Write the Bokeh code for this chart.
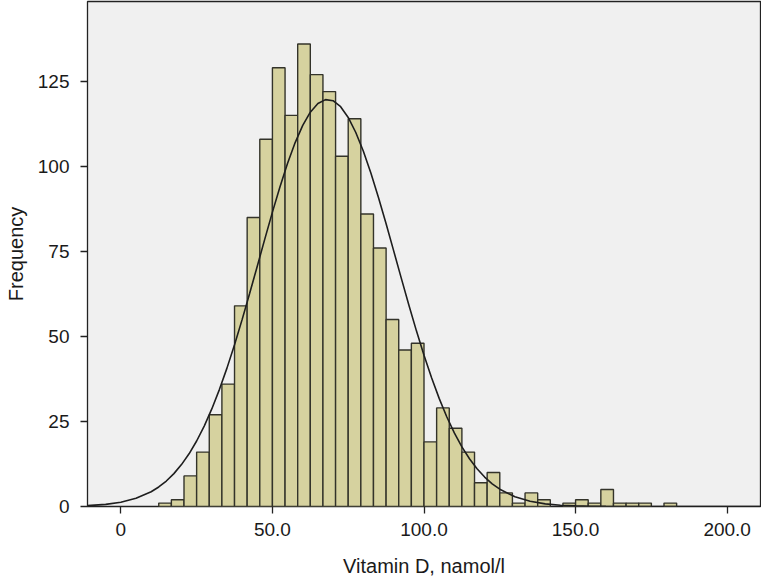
from bokeh.plotting import figure
from bokeh.models import FixedTicker, Range1d, ColumnDataSource
from bokeh.embed import file_html
from bokeh.resources import INLINE

# ---- data ----
bin_first_edge = 12.5
bin_width = 25 / 6
counts = [1, 2, 9, 16, 27, 36, 59, 85, 108, 129, 115, 136, 127, 122, 103, 114,
          86, 76, 55, 46, 48, 19, 29, 23, 16, 7, 10, 4, 1, 4, 2, 0, 1, 2, 1, 5,
          1, 1, 1, 0, 1]

# fitted normal curve
curve_x = [-11, -5, 0, 5, 10, 12.5, 15, 17.5, 20, 22.5, 25, 27.5, 30, 32.5, 35,
           37.5, 40, 42.5, 45, 47.5, 50, 52.5, 55, 57.5, 60, 62.5, 65, 67.5,
           70, 72.5, 75, 77.5, 80, 82.5, 85, 87.5, 90, 92.5, 95, 97.5, 100,
           102.5, 105, 107.5, 110, 112.5, 115, 117.5, 120, 122.5, 125, 130,
           135, 140, 145, 150, 155, 160, 170, 180, 211]
curve_y = [0.26, 0.63, 1.26, 2.40, 4.35, 5.74, 7.49, 9.67, 12.32, 15.49, 19.26,
           23.65, 28.69, 34.38, 40.69, 47.58, 54.95, 62.70, 70.67, 78.69, 86.56,
           94.04, 100.93, 107.01, 112.07, 115.95, 118.50, 119.64, 119.32,
           117.56, 114.40, 109.98, 104.45, 97.99, 90.80, 83.13, 75.17, 67.15,
           59.25, 51.65, 44.48, 37.84, 31.79, 26.39, 21.64, 17.52, 14.03, 11.09,
           8.66, 6.68, 5.09, 2.85, 1.52, 0.77, 0.37, 0.17, 0.08, 0.03, 0.0, 0.0,
           0.0]

x_ticks = [0, 50, 100, 150, 200]
x_tick_labels = ["0", "50.0", "100.0", "150.0", "200.0"]
y_ticks = [0, 25, 50, 75, 100, 125]
y_tick_labels = ["0", "25", "50", "75", "100", "125"]

x_title = "Vitamin D, namol/l"
y_title = "Frequency"

# ---- build histogram source ----
lefts, rights, tops = [], [], []
for k, c in enumerate(counts):
    if c > 0:
        lefts.append(bin_first_edge + k * bin_width)
        rights.append(bin_first_edge + (k + 1) * bin_width)
        tops.append(c)
bars = ColumnDataSource(dict(left=lefts, right=rights, top=tops,
                             bottom=[0] * len(tops)))

FONT = "Liberation Sans"

p = figure(width=761, height=580, output_backend="svg", toolbar_location=None,
           x_range=Range1d(-11, 211), y_range=Range1d(0, 148.5),
           min_border_left=87, min_border_right=1, min_border_top=1,
           min_border_bottom=74)

p.background_fill_color = "#f0f0f0"
p.border_fill_color = "white"
p.outline_line_color = "#222222"
p.outline_line_width = 1.3
p.xgrid.visible = False
p.ygrid.visible = False

p.quad(left="left", right="right", top="top", bottom="bottom", source=bars,
       fill_color="#d6d29f", line_color="#33332a", line_width=1.4)

p.line(curve_x, curve_y, line_color="#1e1e1e", line_width=1.6)

for ax in (p.xaxis[0], p.yaxis[0]):
    ax.axis_line_color = None
    ax.major_tick_line_color = "#222222"
    ax.major_tick_line_width = 1.3
    ax.major_tick_out = 7
    ax.major_tick_in = 0
    ax.minor_tick_line_color = None
    ax.major_label_text_font = FONT
    ax.major_label_text_font_size = "19px"
    ax.major_label_text_color = "#1a1a1a"
    ax.axis_label_text_font = FONT
    ax.axis_label_text_font_size = "20px"
    ax.axis_label_text_font_style = "normal"
    ax.axis_label_text_color = "#1a1a1a"

p.xaxis.ticker = FixedTicker(ticks=x_ticks)
p.xaxis.major_label_overrides = dict(zip(x_ticks, x_tick_labels))
p.yaxis.ticker = FixedTicker(ticks=y_ticks)
p.yaxis.major_label_overrides = dict(zip(y_ticks, y_tick_labels))
p.xaxis.axis_label = x_title
p.yaxis.axis_label = y_title
p.xaxis.major_label_standoff = 9
p.yaxis.major_label_standoff = 11
p.xaxis.axis_label_standoff = 16
p.yaxis.axis_label_standoff = 8

open("out.html", "w").write(file_html(p, INLINE))
